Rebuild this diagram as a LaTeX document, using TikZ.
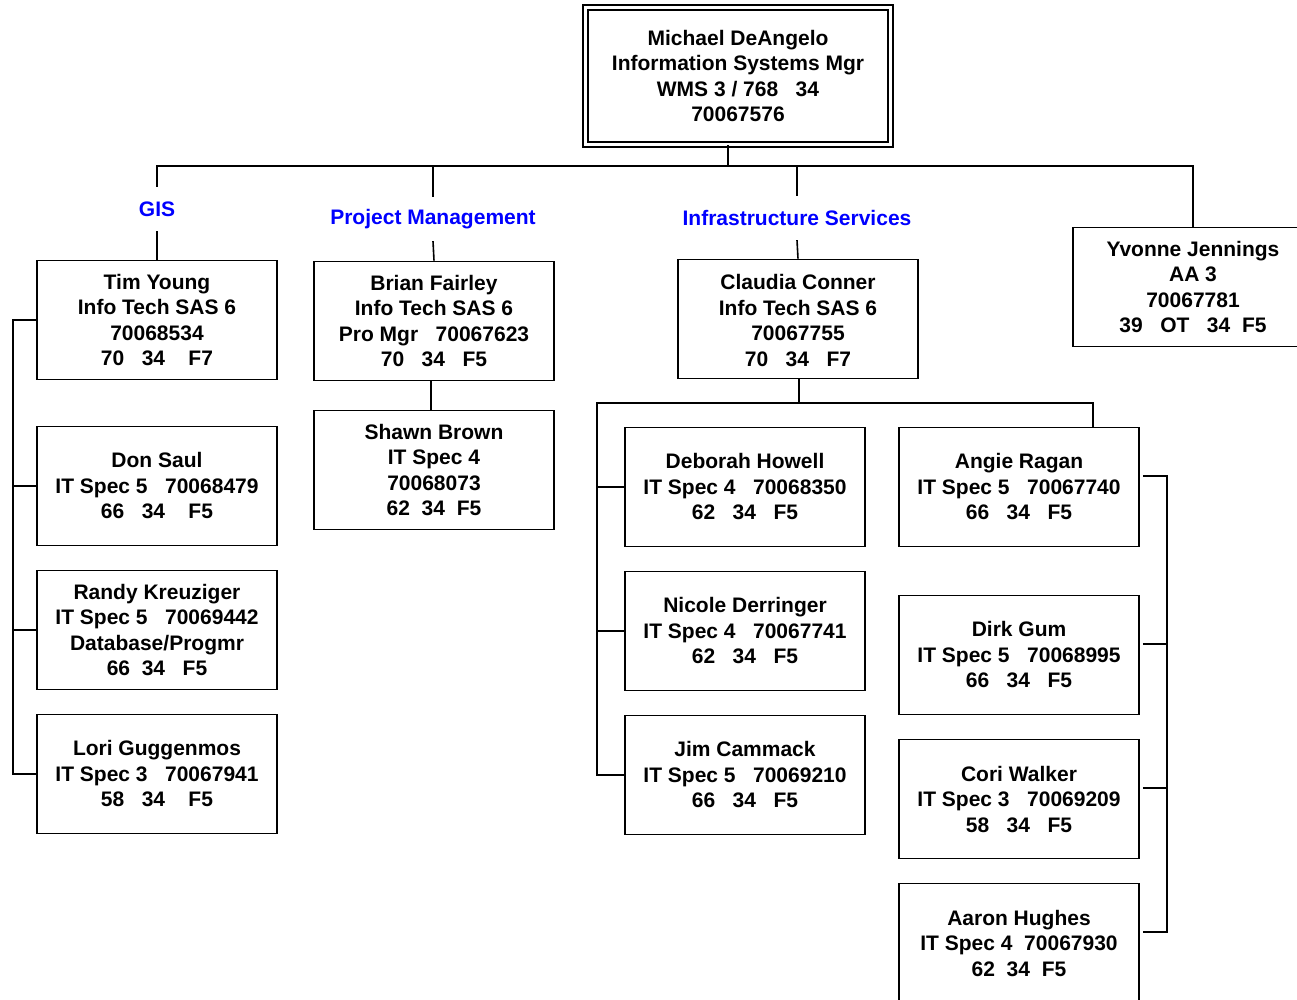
\documentclass[tikz,border=0pt]{standalone}
\usepackage{fontspec}
\setmainfont{Liberation Sans}
\usepackage{xcolor}
\usetikzlibrary{calc}
\definecolor{divc}{RGB}{0,0,255}
\tikzset{
  staffbox/.style={draw,line width=1.6pt,minimum width=240pt,minimum height=119pt,align=center,inner sep=0pt,font=\bfseries\fontsize{21}{25.5}\selectfont},
  headbox/.style={staffbox,double,double distance=3pt,line width=1.7pt,minimum width=305pt,minimum height=137pt},
  divlabel/.style={text=divc,font=\bfseries\fontsize{21}{25.5}\selectfont,inner sep=0pt,minimum height=44pt},
  link/.style={line width=1.6pt}
}
\begin{document}
\begin{tikzpicture}[x=1pt,y=-1pt]
\useasboundingbox (0,0) rectangle (1297,1000);
% manager and the four branches
\node[headbox] (mgr) at (738,76) {Michael DeAngelo\\Information Systems Mgr\\WMS 3 / 768~~~34\\70067576};
\node[divlabel] (gis) at (157,209) {GIS};
\node[divlabel] (pm)  at (433,219) {Project Management};
\node[divlabel] (infra) at (797,218) {Infrastructure Services};
\node[staffbox] (yvonne) at (1193,287) {Yvonne Jennings\\AA 3\\70067781\\39~~~OT~~~34~~F5};
\coordinate (bus) at (728,166);
\draw[link] ([xshift=-10pt]mgr.south) -- (bus);
\draw[link] (gis.north) |- (bus) -| (yvonne.north);
\draw[link] (pm.north) -- (pm.north |- bus);
\draw[link] (infra.north) -- (infra.north |- bus);
% GIS
\node[staffbox] (tim)   at (157,320) {Tim Young\\Info Tech SAS 6\\70068534\\70~~~34~~~~F7};
\node[staffbox] (don)   at (157,486) {Don Saul\\IT Spec 5~~~70068479\\66~~~34~~~~F5};
\node[staffbox] (randy) at (157,630) {Randy Kreuziger\\IT Spec 5~~~70069442\\Database/Progmr\\66~~34~~~F5};
\node[staffbox] (lori)  at (157,774) {Lori Guggenmos\\IT Spec 3~~~70067941\\58~~~34~~~~F5};
\draw[link] (gis.south) -- (tim.north);
\coordinate (railG) at (13,320);
\draw[link] (tim.west) -- (railG) |- (lori.west);
\foreach \who in {don,randy}{\draw[link] (\who.west -| railG) -- (\who.west);}
% project management
\node[staffbox] (brian) at (434,321) {Brian Fairley\\Info Tech SAS 6\\Pro Mgr~~~70067623\\70~~~34~~~F5};
\node[staffbox] (shawn) at (434,470) {Shawn Brown\\IT Spec 4\\70068073\\62~~34~~F5};
\draw[link] (pm.south) -- (brian.north);
\draw[link] ([xshift=-3pt]brian.south) -- ([xshift=-3pt]shawn.north);
% infrastructure services
\node[staffbox] (claudia) at (798,319) {\raisebox{-9pt}[0pt][0pt]{\begin{tabular}{@{}c@{}}Claudia Conner\\Info Tech SAS 6\\70067755\\70~~~34~~~F7\end{tabular}}};
\node[staffbox] (deborah) at (745,487) {Deborah Howell\\IT Spec 4~~~70068350\\62~~~34~~~F5};
\node[staffbox] (nicole)  at (745,631) {Nicole Derringer\\IT Spec 4~~~70067741\\62~~~34~~~F5};
\node[staffbox] (jim)     at (745,775) {Jim Cammack\\IT Spec 5~~~70069210\\66~~~34~~~F5};
\node[staffbox] (angie)   at (1019,487) {Angie Ragan\\IT Spec 5~~~70067740\\66~~~34~~~F5};
\node[staffbox] (dirk)    at (1019,655) {Dirk Gum\\IT Spec 5~~~70068995\\66~~~34~~~F5};
\node[staffbox] (cori)    at (1019,799) {Cori Walker\\IT Spec 3~~~70069209\\58~~~34~~~F5};
\node[staffbox] (aaron)   at (1019,943) {Aaron Hughes\\IT Spec 4~~70067930\\62~~34~~F5};
\draw[link] (infra.south) -- (claudia.north);
\coordinate (railIS) at (597,403);
\draw[link] ([xshift=1pt]claudia.south) -- ([xshift=1pt]claudia.south |- railIS);
\draw[link] ([xshift=74pt]angie.north) |- (railIS) |- (jim.west);
\foreach \who in {deborah,nicole}{\draw[link] (\who.west -| railIS) -- (\who.west);}
\coordinate (railR) at (1167,476);
\draw[link] ([xshift=3pt,yshift=11pt]angie.east) -- (railR) |- ([xshift=3pt,yshift=11pt]aaron.east);
\foreach \who in {dirk,cori}{\draw[link] ([xshift=3pt,yshift=11pt]\who.east) -- ([yshift=11pt]\who.east -| railR);}
\end{tikzpicture}
\end{document}
